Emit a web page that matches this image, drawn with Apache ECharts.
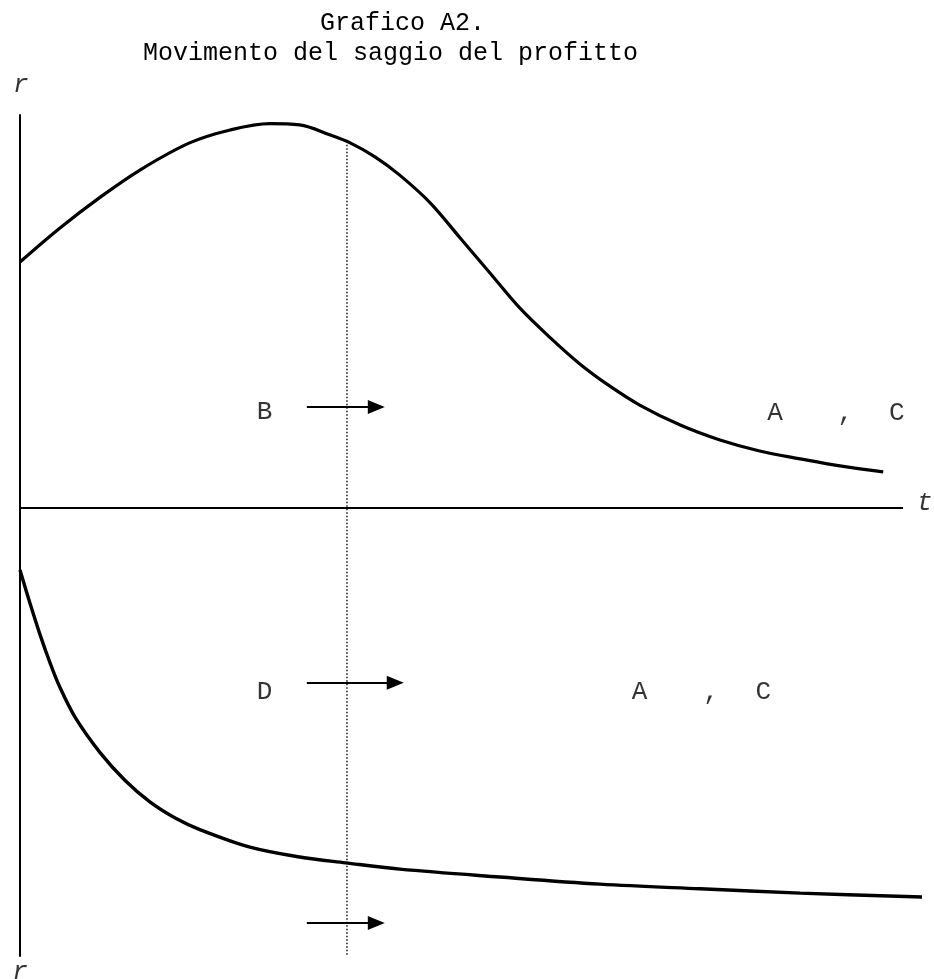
<!DOCTYPE html>
<html>
<head>
<meta charset="utf-8">
<script src="https://cdn.jsdelivr.net/npm/echarts@6/dist/echarts.min.js"></script>
<style>
  html, body { margin: 0; padding: 0; background: #fff; }
  #chart { width: 934px; height: 979px; }
</style>
</head>
<body>
<div id="chart"></div>
<script>
// Upper curve: rate of profit rising, peaking, then falling toward a floor
const tUpper = [0, 4.4, 8.9, 13.3, 18.8, 23.3, 27.7, 31.0, 34.4, 36.6, 39.4, 42.1, 45.5, 48.8, 52.1, 55.4, 58.8, 62.1, 65.4, 68.7, 73.2, 77.6, 82.0, 86.5, 90.9, 95.7];
const rUpper = [6.26, 7.12, 7.91, 8.60, 9.29, 9.62, 9.78, 9.75, 9.49, 9.29, 8.93, 8.47, 7.76, 6.87, 5.98, 5.09, 4.33, 3.66, 3.10, 2.62, 2.11, 1.73, 1.45, 1.25, 1.07, 0.92];

// Lower curve: rate of profit decaying quickly, then flattening
const tLower = [0, 1.1, 2.2, 3.3, 4.4, 6.1, 8.9, 11.6, 14.4, 17.2, 20, 25.5, 31, 36.1, 42.1, 53.2, 64.3, 75.4, 86.5, 100];
const rLower = [-1.58, -2.42, -3.21, -3.92, -4.55, -5.32, -6.23, -6.92, -7.48, -7.89, -8.19, -8.63, -8.88, -9.03, -9.19, -9.39, -9.57, -9.69, -9.80, -9.90];

// Time axis extent and the dotted reference instant
const tAxisEnd = 97.9;
const tMark = 36.25;
const markTop = 9.24;
const markBottom = -11.37;

// Arrows: level, start and end along t
const arrowLevels = [2.57, -4.45, -10.56];
const arrowStarts = [31.8, 31.8, 31.8];
const arrowEnds = [39.5, 41.6, 39.5];

// Phase letters
const letters = ['B', 'A', ',', 'C', 'D', 'A', ',', 'C'];
const letterT = [27.1, 83.7, 91.5, 97.2, 27.1, 68.7, 76.6, 82.4];
const letterR = [2.44, 2.42, 2.42, 2.42, -4.68, -4.68, -4.68, -4.68];

// Axis names
const axisNames = ['r', 't', 'r'];
const axisNameT = [0.1, 100.3, 0];
const axisNameR = [10.76, 0.13, -11.8];

// Title lines
const titleLines = ['Grafico A2.', 'Movimento del saggio del profitto'];

const MONO = '"Liberation Mono", "Courier New", monospace';

const chart = echarts.init(document.getElementById('chart'), null, { renderer: 'canvas' });

const pairs = (xs, ys) => xs.map((x, i) => [x, ys[i]]);

const titleStyle = {
  fontFamily: MONO,
  fontSize: 25,
  fontWeight: 'normal',
  color: '#000'
};

chart.setOption({
  animation: false,
  backgroundColor: '#fff',
  title: [
    { text: titleLines[0], left: 320, top: 11, padding: 0, textStyle: titleStyle },
    { text: titleLines[1], left: 143, top: 41, padding: 0, textStyle: titleStyle }
  ],
  grid: { left: 20, right: 12, top: 115, bottom: 23 },
  xAxis: {
    type: 'value',
    min: 0,
    max: 100,
    show: false
  },
  yAxis: {
    type: 'value',
    min: -11.4,
    max: 10,
    axisLine: { show: true, onZero: false, lineStyle: { color: '#000', width: 2 } },
    axisTick: { show: false },
    axisLabel: { show: false },
    splitLine: { show: false }
  },
  series: [
    {
      name: 'asse t',
      type: 'line',
      data: [[0, 0], [tAxisEnd, 0]],
      symbol: 'none',
      lineStyle: { color: '#000', width: 2 },
      silent: true
    },
    {
      name: 'istante',
      type: 'line',
      data: [[tMark, markTop], [tMark, markBottom]],
      symbol: 'none',
      lineStyle: { color: '#000', width: 1.4, type: [1.5, 2] },
      silent: true
    },
    {
      name: 'r superiore',
      type: 'line',
      data: pairs(tUpper, rUpper),
      smooth: 0.35,
      symbol: 'none',
      lineStyle: { color: '#000', width: 3.2 }
    },
    {
      name: 'r inferiore',
      type: 'line',
      data: pairs(tLower, rLower),
      smooth: 0.35,
      symbol: 'none',
      lineStyle: { color: '#000', width: 3.4 }
    },
    {
      name: 'frecce',
      type: 'line',
      data: [],
      markLine: {
        silent: true,
        symbol: ['none', 'triangle'],
        symbolSize: [14, 17],
        label: { show: false },
        lineStyle: { color: '#000', width: 2, type: 'solid' },
        emphasis: { disabled: true },
        data: arrowLevels.map((r, i) => [
          { coord: [arrowStarts[i], r] },
          { coord: [arrowEnds[i], r] }
        ])
      }
    },
    {
      name: 'lettere',
      type: 'scatter',
      symbolSize: 0,
      silent: true,
      clip: false,
      data: letters.map((s, i) => ({ name: s, value: [letterT[i], letterR[i]] })),
      label: {
        show: true,
        position: 'inside',
        formatter: '{b}',
        fontFamily: MONO,
        fontSize: 26,
        color: '#000'
      }
    },
    {
      name: 'nomi assi',
      type: 'scatter',
      symbolSize: 0,
      silent: true,
      clip: false,
      data: axisNames.map((s, i) => ({ name: s, value: [axisNameT[i], axisNameR[i]] })),
      label: {
        show: true,
        position: 'inside',
        formatter: '{b}',
        fontFamily: MONO,
        fontStyle: 'italic',
        fontSize: 26,
        color: '#000'
      }
    }
  ]
});
</script>
</body>
</html>
